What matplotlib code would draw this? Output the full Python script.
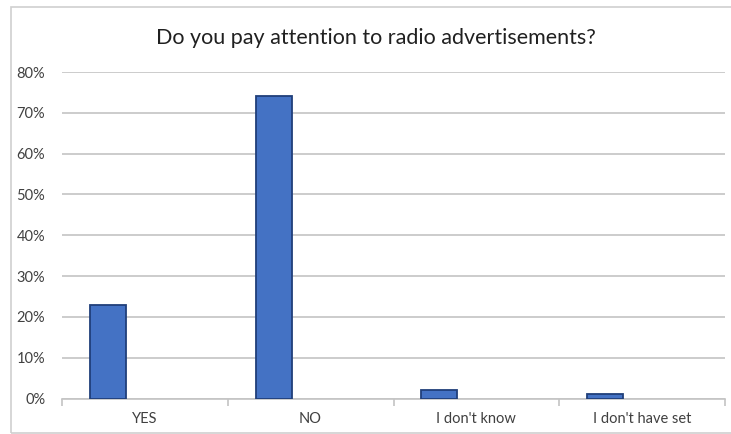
import numpy as np
import matplotlib.pyplot as plt
from matplotlib.patches import Rectangle
from matplotlib.ticker import FuncFormatter

categories = ['YES', 'NO', "I don't know", "I don't have set"]
shares = [23, 74, 2, 1]
y_ticks = [0, 10, 20, 30, 40, 50, 60, 70, 80]

plt.rcParams['font.family'] = ['Lato', 'DejaVu Sans']

fig = plt.figure(figsize=(7.31, 4.34), dpi=100)
fig.patch.set_facecolor('white')

# outer chart border like the spreadsheet frame
fig.patches.append(Rectangle((10.5 / 731, 1 / 434), 725 / 731, 426 / 434,
                             transform=fig.transFigure, fill=False,
                             edgecolor='#CFCFCF', linewidth=1.2))

ax = fig.add_axes([62 / 731, 35.5 / 434, 663 / 731, 326.5 / 434])

x = np.arange(len(categories))
ax.bar(x - 0.223, shares, width=0.217, color='#4472C4',
       edgecolor='#203F7A', linewidth=1.3, zorder=3)

ax.set_xlim(-0.5, len(categories) - 0.5)
ax.set_ylim(0, 80)
ax.set_yticks(y_ticks)
ax.yaxis.set_major_formatter(FuncFormatter(lambda v, p: f'{v:.0f}%'))
ax.set_xticks(x)
ax.set_xticklabels(categories)
ax.set_xticks(np.arange(len(categories) + 1) - 0.5, minor=True)

ax.grid(axis='y', color='#C4C4C4', linewidth=1.2, zorder=0)
for side in ['top', 'right', 'left']:
    ax.spines[side].set_visible(False)
ax.spines['bottom'].set_color('#C4C4C4')
ax.spines['bottom'].set_linewidth(1.2)

ax.tick_params(axis='y', length=0, pad=12, labelsize=10.5, labelcolor='#404040')
ax.tick_params(axis='x', which='major', length=0, pad=10, labelsize=10.5, labelcolor='#404040')
ax.tick_params(axis='x', which='minor', length=5, color='#C4C4C4', width=1.2)

fig.text(376 / 731, 1 - 38 / 434, 'Do you pay attention to radio advertisements?',
         ha='center', va='center', fontsize=15.5, color='#202020')

plt.savefig('out.png', dpi=100)
